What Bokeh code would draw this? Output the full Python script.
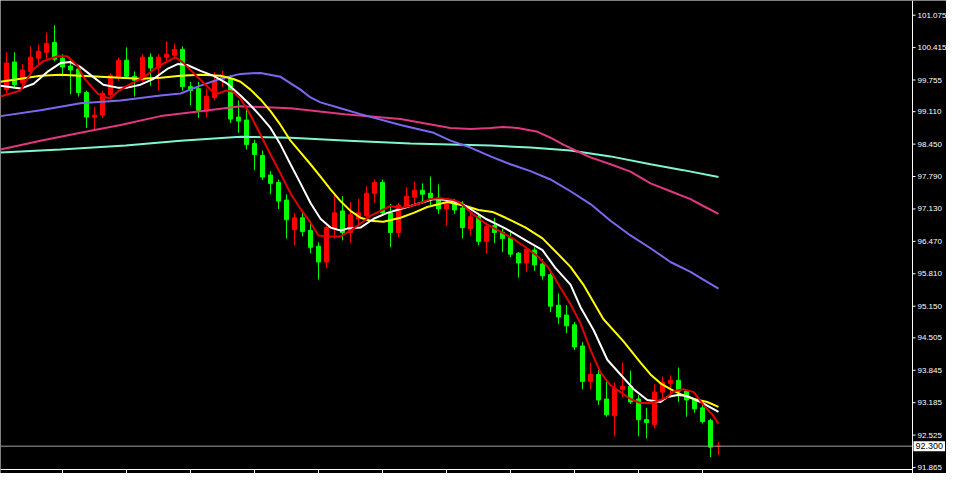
import numpy as np
from bokeh.plotting import figure
from bokeh.models import ColumnDataSource, Range1d, Label
from bokeh.core.properties import value
from bokeh.embed import file_html
from bokeh.resources import INLINE

# ---------------- data ----------------
opens = [99.56, 100.12, 99.70, 99.93, 100.20, 100.32, 100.52, 100.20, 100.04, 99.98,
         99.50, 99.00, 99.04, 99.46, 99.81, 100.16, 99.83, 99.75, 100.22, 100.00,
         100.22, 100.26, 100.38, 99.62, 99.58, 99.12, 99.40, 99.76, 99.78, 99.00,
         98.94, 98.46, 98.22, 97.82, 97.67, 97.31, 96.71, 96.95, 96.69, 96.37,
         96.05, 96.73, 97.09, 96.65, 96.93, 96.99, 97.45, 97.67, 97.05, 96.65,
         97.19, 97.37, 97.51, 97.45, 97.35, 97.13, 97.23, 97.15, 96.73, 96.97,
         96.47, 96.79, 96.65, 96.55, 96.23, 96.03, 96.29, 96.01, 95.79, 95.17,
         94.97, 94.77, 94.34, 93.62, 93.76, 93.26, 92.92, 93.46, 93.52, 93.26,
         92.84, 92.74, 93.40, 93.58, 93.64, 93.42, 93.24, 93.08, 92.82, 92.29]
highs = [100.32, 100.32, 100.08, 100.44, 100.48, 100.72, 100.87, 100.28, 100.20, 100.02,
         99.54, 99.20, 99.54, 99.89, 100.22, 100.42, 99.93, 100.28, 100.30, 100.28,
         100.54, 100.50, 100.44, 99.72, 99.72, 99.58, 99.92, 99.94, 99.85, 99.34,
         99.18, 98.54, 98.32, 97.90, 97.73, 97.43, 97.05, 97.05, 96.89, 96.45,
         96.85, 97.45, 97.39, 97.27, 97.33, 97.59, 97.73, 97.73, 97.23, 97.25,
         97.57, 97.69, 97.65, 97.79, 97.63, 97.27, 97.33, 97.29, 97.09, 97.05,
         96.85, 96.95, 96.73, 96.65, 96.25, 96.35, 96.35, 96.11, 95.89, 95.41,
         95.17, 94.83, 94.42, 94.00, 93.86, 93.66, 93.60, 94.00, 93.84, 93.34,
         93.08, 93.56, 93.72, 93.74, 93.90, 93.46, 93.26, 93.14, 92.86, 92.38]
lows = [99.48, 99.59, 99.64, 99.89, 100.04, 100.18, 100.14, 99.83, 99.47, 99.42,
        98.78, 98.74, 98.98, 99.38, 99.74, 99.78, 99.42, 99.72, 99.64, 99.54,
        100.14, 100.18, 99.54, 99.24, 98.98, 99.00, 99.34, 99.62, 98.88, 98.68,
        98.34, 97.92, 97.72, 97.43, 97.13, 96.53, 96.39, 96.57, 96.23, 95.69,
        95.93, 96.53, 96.49, 96.43, 96.79, 96.95, 97.25, 96.99, 96.35, 96.55,
        97.15, 97.23, 97.25, 97.21, 97.03, 96.79, 97.03, 96.53, 96.59, 96.39,
        96.23, 96.43, 96.25, 96.15, 95.73, 95.85, 95.87, 95.69, 95.03, 94.79,
        94.60, 94.26, 93.46, 93.46, 93.14, 92.90, 92.50, 93.30, 93.16, 92.50,
        92.46, 92.66, 93.26, 93.34, 93.20, 92.90, 92.98, 92.76, 92.08, 92.12]
closes = [100.10, 99.66, 99.96, 100.22, 100.34, 100.50, 100.18, 100.02, 99.96, 99.50,
          99.00, 99.04, 99.48, 99.85, 100.16, 99.83, 99.75, 100.22, 100.00, 100.22,
          100.28, 100.38, 99.62, 99.54, 99.14, 99.42, 99.74, 99.82, 98.96, 98.92,
          98.44, 98.24, 97.78, 97.65, 97.29, 96.91, 96.95, 96.67, 96.35, 96.05,
          96.75, 97.05, 96.65, 97.01, 97.05, 97.45, 97.67, 97.05, 96.65, 97.21,
          97.39, 97.51, 97.43, 97.35, 97.13, 97.23, 97.11, 96.75, 96.97, 96.47,
          96.77, 96.65, 96.53, 96.21, 96.03, 96.31, 95.99, 95.77, 95.15, 94.93,
          94.75, 94.32, 93.62, 93.76, 93.24, 92.94, 93.48, 93.52, 93.20, 92.84,
          92.78, 93.40, 93.60, 93.64, 93.42, 93.24, 93.06, 92.80, 92.28, 92.30]

# moving averages: (bar position, price) pairs
red_ma_x = [-0.75, 0.5, 1.75, 2.6, 3.4, 4.6, 6.4, 7.6, 8.9, 9.6, 10.5, 11.4, 12.1, 13, 13.9,
            14.9, 16.1, 17.4, 19, 20.25, 21.1, 22, 23.25, 24.5, 25.75, 26.5, 27.4, 28.25,
            29.25, 30.5, 31.75, 33, 34.25, 35.5, 36.75, 38, 39, 40.1, 41.75, 43, 44.25,
            45.5, 46.75, 48, 49.25, 50.5, 51.75, 53, 54.25, 55.9, 56.75, 58.25, 59.9, 61.5,
            63.25, 64.9, 66.5, 67.75, 69, 70.5, 71.75, 73, 74.25, 75.5, 76.75, 78, 79.25,
            80.5, 81.75, 82.6, 83.4, 84.6, 85.9, 87.1, 88.25, 89]
red_ma_y = [99.42, 99.48, 99.54, 99.78, 99.98, 100.14, 100.24, 100.24, 100.04, 99.82, 99.64,
            99.48, 99.42, 99.38, 99.52, 99.62, 99.72, 99.84, 100.04, 100.14, 100.22, 100.12,
            99.92, 99.72, 99.52, 99.48, 99.54, 99.52, 99.38, 99.04, 98.64, 98.24, 97.85,
            97.45, 97.13, 96.85, 96.59, 96.57, 96.57, 96.69, 96.83, 96.99, 97.09, 97.19,
            97.15, 97.19, 97.25, 97.33, 97.35, 97.31, 97.25, 97.03, 96.83, 96.69, 96.53,
            96.35, 96.15, 95.93, 95.59, 95.19, 94.80, 94.26, 93.80, 93.54, 93.40, 93.26,
            93.18, 93.18, 93.24, 93.30, 93.42, 93.46, 93.40, 93.14, 92.94, 92.76]

white_ma_x = [-0.75, 1.75, 3.4, 5.1, 6.75, 8, 9.25, 10.5, 12.1, 13.9, 15.1, 16.75, 18.4,
              20.1, 21.4, 22.6, 24.25, 25.9, 27.6, 29.25, 30.5, 31.75, 33, 34.25, 35.5,
              36.75, 38, 39.25, 40.5, 41.75, 42.6, 44.25, 45.9, 47.6, 49.25, 51.75, 53.4,
              55.1, 56.75, 57.4, 59.9, 62.4, 64.9, 67, 68.6, 70.5, 71.75, 73.4, 75.1,
              76.75, 78.4, 80.1, 81.75, 82.6, 83.9, 85.1, 86.75, 89]
white_ma_y = [99.64, 99.58, 99.68, 99.92, 100.10, 100.12, 100.02, 99.86, 99.66, 99.60,
              99.60, 99.66, 99.78, 99.98, 100.08, 100.06, 99.94, 99.84, 99.68, 99.44,
              99.24, 99.02, 98.78, 98.44, 98.04, 97.65, 97.25, 96.93, 96.75, 96.69, 96.73,
              96.75, 96.93, 97.05, 97.13, 97.25, 97.33, 97.31, 97.25, 97.19, 96.93, 96.73,
              96.49, 96.29, 95.93, 95.59, 95.13, 94.66, 94.06, 93.76, 93.46, 93.24, 93.20,
              93.30, 93.34, 93.32, 93.20, 93.00]

yellow_ma_x = [-0.75, 1.75, 4.25, 6.75, 9.25, 11.75, 14.25, 16.75, 19.25, 21.75, 24.25,
               26.75, 28.25, 29.25, 30.5, 31.75, 33, 34.25, 35.5, 36.75, 38, 39.25, 40.5,
               41.75, 43, 44.25, 45.5, 47.1, 49.25, 50.9, 52.6, 55.1, 57.4, 59, 60.75,
               62.4, 64.9, 67, 68.6, 70.5, 72.1, 74.6, 77.1, 79.25, 80.5, 81.75, 83,
               84.25, 85.9, 87.6, 89]
yellow_ma_y = [99.72, 99.78, 99.84, 99.86, 99.84, 99.82, 99.80, 99.78, 99.80, 99.84, 99.86,
               99.84, 99.78, 99.72, 99.56, 99.36, 99.12, 98.84, 98.52, 98.28, 98.04, 97.79,
               97.53, 97.29, 97.09, 96.95, 96.89, 96.87, 96.95, 97.05, 97.17, 97.27, 97.19,
               97.11, 97.07, 96.95, 96.75, 96.53, 96.27, 95.95, 95.59, 94.89, 94.44, 94.00,
               93.76, 93.58, 93.46, 93.36, 93.26, 93.20, 93.10]

blue_ma_x = [-0.75, 4.25, 9.25, 14.25, 19.25, 21.75, 24.25, 26.75, 29.25, 31.75, 34.25,
             36.75, 38, 39.25, 41.75, 44.25, 49.25, 53.4, 55.5, 58, 60.5, 63, 65.5, 68,
             70.5, 73, 75.5, 78, 80.5, 83, 85.5, 87.1, 89]
blue_ma_y = [99.02, 99.14, 99.28, 99.34, 99.44, 99.48, 99.64, 99.78, 99.88, 99.90, 99.82,
             99.56, 99.40, 99.30, 99.18, 99.06, 98.84, 98.68, 98.52, 98.38, 98.20, 98.04,
             97.90, 97.73, 97.49, 97.23, 96.89, 96.59, 96.33, 96.05, 95.85, 95.69, 95.51]

pink_ma_x = [-0.75, 4.25, 9.25, 14.25, 19.25, 24.25, 29.25, 35.5, 42.25, 49.25, 55.5, 58,
             60.5, 62.1, 63.9, 66.4, 68, 69.6, 71.4, 73, 75.5, 78, 80.5, 83, 85.5, 87.1, 89]
pink_ma_y = [98.34, 98.52, 98.68, 98.84, 99.02, 99.12, 99.22, 99.18, 99.06, 98.96, 98.78,
             98.76, 98.78, 98.80, 98.78, 98.70, 98.58, 98.44, 98.30, 98.18, 98.04, 97.89,
             97.65, 97.49, 97.33, 97.19, 97.03]

aqua_ma_x = [-0.75, 6.75, 14.9, 21.75, 29.25, 35.5, 42.75, 50.5, 55.5, 60.5, 65.5, 70.5,
             75.5, 80.5, 84.6, 89]
aqua_ma_y = [98.28, 98.34, 98.42, 98.52, 98.60, 98.58, 98.52, 98.46, 98.44, 98.42, 98.38,
             98.32, 98.20, 98.04, 97.92, 97.78]

price_ticks = [101.075, 100.415, 99.755, 99.110, 98.450, 97.790, 97.130, 96.470, 95.810,
               95.150, 94.505, 93.845, 93.185, 92.525, 91.865]
price_labels = ["101.075", "100.415", "99.755", "99.110", "98.450", "97.790", "97.130",
                "96.470", "95.810", "95.150", "94.505", "93.845", "93.185", "92.525", "91.865"]
time_ticks = [7, 15, 23, 31, 39, 47, 55, 63, 71, 79, 87]
last_price = 92.300
last_label = "92.300"

# ---------------- layout constants ----------------
W, H = 946, 473                 # whole figure
CHART_W, CHART_H = 912, 469     # price area (left/top part), scale strips on right/bottom
X0, X1 = -0.75, 113.25          # bars visible in the price area
Y0, Y1 = 91.825, 101.374        # prices visible in the price area
px_x = CHART_W / (X1 - X0)
px_y = CHART_H / (Y1 - Y0)
x_end = X0 + W / px_x
y_start = Y0 - (H - CHART_H) / px_y

FONT = "Liberation Sans"
p = figure(width=W, height=H, output_backend="svg", toolbar_location=None,
           x_range=Range1d(X0, x_end), y_range=Range1d(y_start, Y1),
           x_axis_location=None, y_axis_location=None,
           background_fill_color="black", border_fill_color="black",
           min_border=0)
p.outline_line_color = None
p.grid.visible = False

idx = np.arange(len(opens))
o = np.array(opens); c = np.array(closes); h = np.array(highs); l = np.array(lows)
up = c >= o
colors = np.where(up, "#ff0000", "#00ff00")
src = ColumnDataSource(dict(x=idx, open=o, close=c, high=h, low=l,
                            top=np.maximum(o, c), bottom=np.minimum(o, c), color=colors))

p.segment(x0="x", y0="high", x1="x", y1="low", color="color", line_width=1, source=src)
p.vbar(x="x", width=0.5, top="top", bottom="bottom", fill_color="color",
       line_color="color", line_width=1, source=src)

p.line(aqua_ma_x, aqua_ma_y, line_color="#80f5d2", line_width=2)
p.line(pink_ma_x, pink_ma_y, line_color="#e0377f", line_width=2)
p.line(blue_ma_x, blue_ma_y, line_color="#7b68ee", line_width=2)
p.line(yellow_ma_x, yellow_ma_y, line_color="#ffff00", line_width=2)
p.line(white_ma_x, white_ma_y, line_color="#ffffff", line_width=2)
p.line(red_ma_x, red_ma_y, line_color="#e00000", line_width=2)

# last price line
p.segment(x0=[X0], y0=[last_price], x1=[X1], y1=[last_price], line_color="#a0a0a0", line_width=1)

# scale lines (right price scale, bottom time scale)
p.segment(x0=[X1], y0=[y_start], x1=[X1], y1=[Y1], line_color="white", line_width=1)
p.segment(x0=[X0], y0=[Y0], x1=[X1], y1=[Y0], line_color="white", line_width=1)

# ticks
tick_len_x = 3 / px_x
p.segment(x0=[X1] * len(price_ticks), y0=price_ticks,
          x1=[X1 + tick_len_x] * len(price_ticks), y1=price_ticks,
          line_color="white", line_width=1)
p.segment(x0=time_ticks, y0=[Y0] * len(time_ticks), x1=time_ticks,
          y1=[y_start] * len(time_ticks), line_color="white", line_width=1)

# price labels
p.text(x=[X1 + 5 / px_x] * len(price_ticks), y=price_ticks, text=price_labels,
       text_color="white", text_font=value(FONT), text_font_size="8px",
       text_align="left", text_baseline="middle")

# last price tag
p.add_layout(Label(x=X1, y=last_price, text=last_label, x_offset=1,
                   text_align="left", text_baseline="middle", text_color="black",
                   text_font=FONT, text_font_size="9px",
                   background_fill_color="white", padding=2))

open("out.html", "w").write(file_html(p, INLINE))
